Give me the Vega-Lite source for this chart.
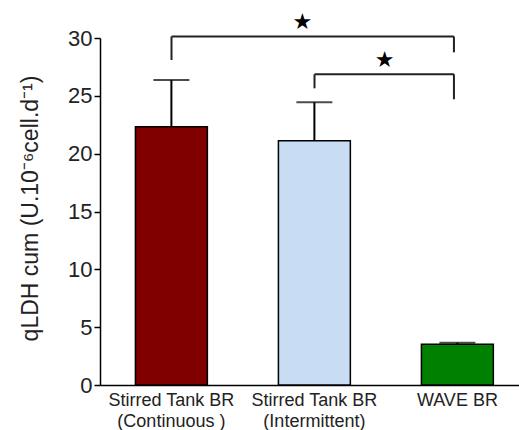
{
  "$schema": "https://vega.github.io/schema/vega-lite/v6.json",
  "width": 419,
  "height": 347,
  "autosize": {"type": "none"},
  "padding": {"left": 100, "top": 38, "right": 0, "bottom": 45},
  "config": {"view": {"stroke": null}, "font": "Liberation Sans"},
  "layer": [
    {
      "data": {
        "values": [
          {"cat": "Stirred Tank BR|(Continuous )", "value": 22.33, "upper": 26.37},
          {"cat": "Stirred Tank BR|(Intermittent)", "value": 21.12, "upper": 24.44},
          {"cat": "WAVE BR", "value": 3.52, "upper": 3.66}
        ]
      },
      "encoding": {
        "x": {
          "field": "cat",
          "type": "nominal",
          "sort": null,
          "scale": {"paddingInner": 0.497, "paddingOuter": 0.2136, "align": 0.58},
          "axis": {
            "title": null,
            "labelExpr": "split(datum.value, '|')",
            "labelAngle": 0,
            "labelFontSize": 18,
            "labelLineHeight": 21,
            "labelPadding": 6,
            "labelColor": "#222222",
            "labelLimit": 0,
            "ticks": false,
            "domainColor": "#000000",
            "domainWidth": 1.5
          }
        }
      },
      "layer": [
        {
          "mark": {"type": "bar", "stroke": "#000000", "strokeWidth": 1.5},
          "encoding": {
            "y": {
              "field": "value",
              "type": "quantitative",
              "scale": {"domain": [0, 30], "nice": false},
              "axis": {
                "values": [0, 5, 10, 15, 20, 25, 30],
                "grid": false,
                "title": "qLDH cum (U.10⁻⁶cell.d⁻¹)",
                "titleFontSize": 23,
                "titleFontWeight": "normal",
                "titleColor": "#222222",
                "titleAngle": -90,
                "titleX": -70,
                "titleY": 170,
                "titleAlign": "center",
                "titleBaseline": "middle",
                "labelFontSize": 22,
                "labelColor": "#222222",
                "labelPadding": 2,
                "tickSize": 6,
                "tickColor": "#000000",
                "tickWidth": 1.5,
                "domainColor": "#000000",
                "domainWidth": 1.5
              }
            },
            "color": {
              "field": "cat",
              "type": "nominal",
              "scale": {
                "domain": ["Stirred Tank BR|(Continuous )", "Stirred Tank BR|(Intermittent)", "WAVE BR"],
                "range": ["#800000", "#c8dcf4", "#008000"]
              },
              "legend": null
            }
          }
        },
        {
          "mark": {"type": "rule", "color": "#000000", "strokeWidth": 2},
          "encoding": {
            "y": {"field": "value", "type": "quantitative"},
            "y2": {"field": "upper"}
          }
        },
        {
          "mark": {"type": "tick", "color": "#000000", "thickness": 2, "size": 36},
          "encoding": {
            "y": {"field": "upper", "type": "quantitative"}
          }
        }
      ]
    },
    {
      "data": {
        "values": [
          {"kind": "leg", "x": 0, "x2": 0, "y": 28.1, "y2": 30.13},
          {"kind": "leg", "x": 1.975, "x2": 1.975, "y": 28.76, "y2": 30.13},
          {"kind": "bar", "x": 0, "x2": 1.975, "y": 30.13, "y2": 30.13},
          {"kind": "leg", "x": 1.0, "x2": 1.0, "y": 25.65, "y2": 26.86},
          {"kind": "leg", "x": 1.975, "x2": 1.975, "y": 24.7, "y2": 26.86},
          {"kind": "bar", "x": 1.0, "x2": 1.975, "y": 26.86, "y2": 26.86}
        ]
      },
      "layer": [
        {
          "mark": {"type": "rule", "color": "#222222", "strokeWidth": 2},
          "encoding": {
            "x": {"field": "x", "type": "quantitative", "scale": {"domain": [-0.5, 2.43], "nice": false, "zero": false}, "axis": null},
            "x2": {"field": "x2"},
            "y": {"field": "y", "type": "quantitative"},
            "y2": {"field": "y2"}
          }
        },
        {
          "data": {
            "values": [
              {"x": 0.915, "y": 31.41, "label": "★"},
              {"x": 1.49, "y": 28.1, "label": "★"}
            ]
          },
          "mark": {"type": "text", "font": "DejaVu Sans", "fontSize": 22, "color": "#000000", "baseline": "middle", "align": "center"},
          "encoding": {
            "x": {"field": "x", "type": "quantitative", "scale": {"domain": [-0.5, 2.43], "nice": false, "zero": false}, "axis": null},
            "y": {"field": "y", "type": "quantitative"},
            "text": {"field": "label"}
          }
        }
      ]
    }
  ],
  "resolve": {"scale": {"x": "independent"}, "axis": {"x": "independent"}}
}
